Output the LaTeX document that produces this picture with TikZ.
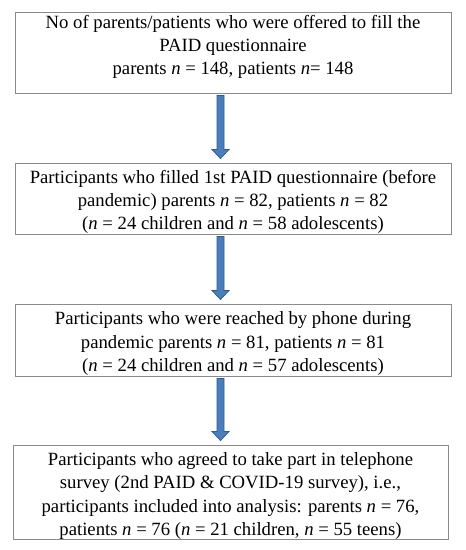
\documentclass[tikz,border=0pt]{standalone}
\usepackage{fontspec}
\setmainfont{Liberation Serif}
\usetikzlibrary{calc}
\definecolor{boxline}{HTML}{8A8A8A}
\definecolor{arrowfill}{HTML}{4A7EBB}
\definecolor{arrowline}{HTML}{2F5A8C}
\tikzset{
  flowbox/.style={draw=boxline, line width=0.9pt, fill=white, minimum width=436pt, inner sep=0pt},
  flowtext/.style={align=center, inner sep=0pt, font=\fontsize{18.7}{23.3}\selectfont},
  flowarrow/.style={fill=arrowfill, draw=arrowline, line width=0.7pt}
}
\newcommand\flowarrow[2]{%
  \path[flowarrow] let \p1=($(#1.south)+(-12.5,2)$), \p2=($(#2.north)+(-12.5,-4)$) in
    (\x1-3.5,\y1) -- (\x1+3.5,\y1) -- (\x1+3.5,\y2+9) -- (\x1+8.5,\y2+9) -- (\x1,\y2)
    -- (\x1-8.5,\y2+9) -- (\x1-3.5,\y2+9) -- cycle;}
\begin{document}
\begin{tikzpicture}[x=1pt,y=-1pt]
\useasboundingbox (0,0) rectangle (466,550);
\node[flowbox, minimum height=81pt] (b1) at (233,52.5) {};
\node[flowtext] (t1) at ($(b1.center)+(0,-5.5)$)
  {No of parents/patients who were offered to fill the\\
   PAID questionnaire\\
   parents \textit{n} = 148, patients \textit{n}= 148};
\node[flowbox, minimum height=71pt] (b2) at (233,198.5) {};
\node[flowtext] (t2) at ($(b2.center)+(0,3.5)$)
  {Participants who filled 1st PAID questionnaire (before\\
   pandemic) parents \textit{n} = 82, patients \textit{n} = 82\\
   (\textit{n} = 24 children and \textit{n} = 58 adolescents)};
\node[flowbox, minimum height=72pt] (b3) at (233,340) {};
\node[flowtext] (t3) at ($(b3.center)+(0,3.5)$)
  {Participants who were reached by phone during\\
   pandemic parents \textit{n} = 81, patients \textit{n} = 81\\
   (\textit{n} = 24 children and \textit{n} = 57 adolescents)};
\node[flowbox, minimum width=435pt, minimum height=94pt] (b4) at (230.5,492) {};
\node[flowtext] (t4) at ($(b4.center)+(0,4)$)
  {Participants who agreed to take part in telephone\\
   survey (2nd PAID \& COVID-19 survey), i.e.,\\
   participants included into analysis: parents \textit{n} = 76,\\
   patients \textit{n} = 76 (\textit{n} = 21 children, \textit{n} = 55 teens)};
\flowarrow{b1}{b2}
\flowarrow{b2}{b3}
\flowarrow{b3}{b4}
\end{tikzpicture}
\end{document}
